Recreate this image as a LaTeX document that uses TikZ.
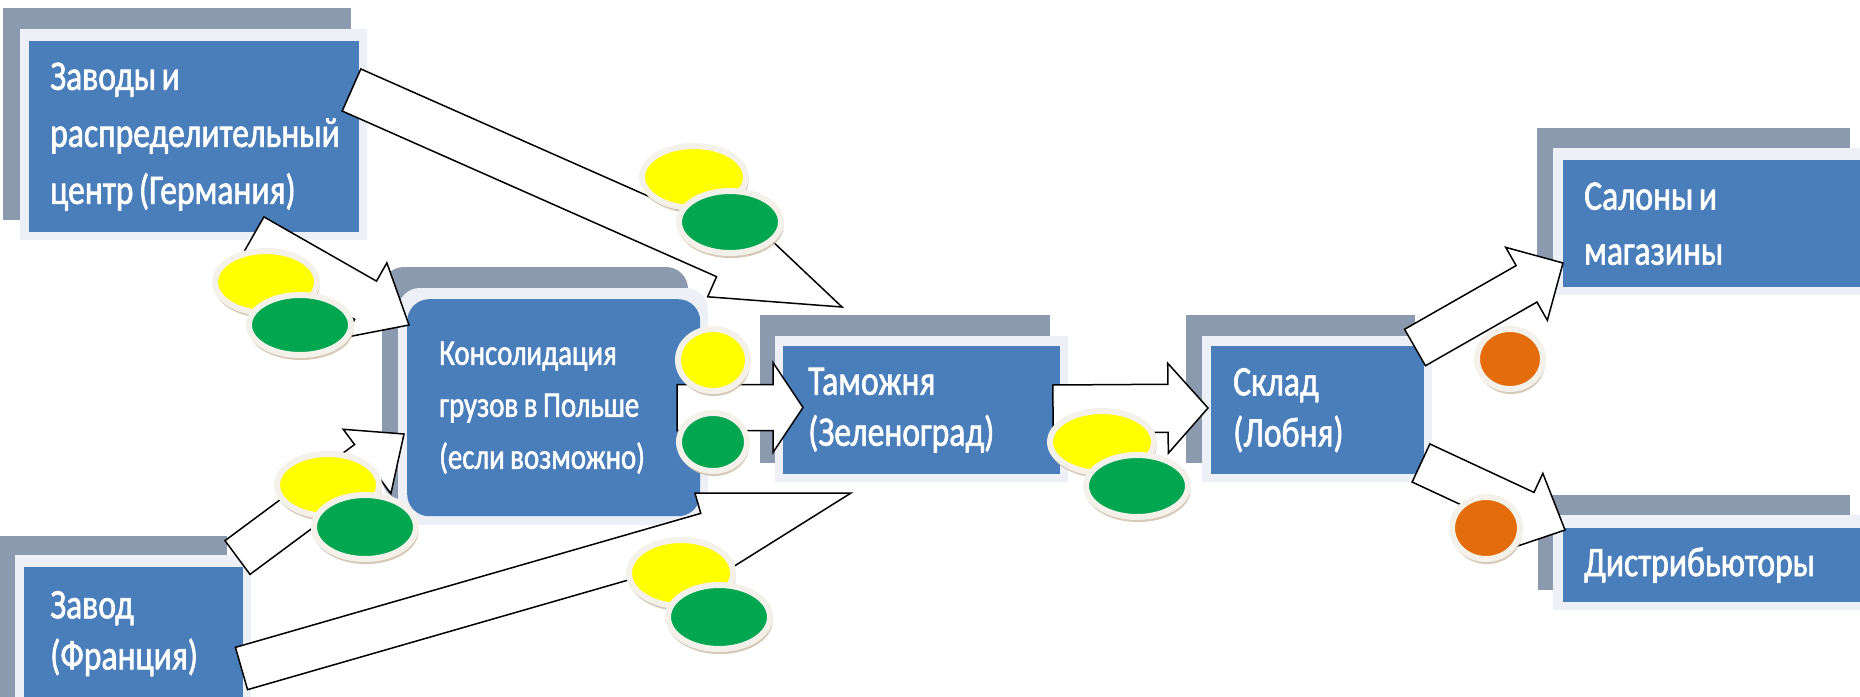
\documentclass[tikz,border=0pt]{standalone}
\usepackage{fontspec}
\newfontfamily\boxfont[FakeStretch=0.8,FakeBold=1.5]{Carlito}
\usetikzlibrary{calc,shapes.geometric,shadows}
\definecolor{boxblue}{HTML}{4A7EBB}
\definecolor{backgray}{HTML}{8C9AB0}
\definecolor{framelight}{HTML}{EDF1F7}
\definecolor{cyellow}{HTML}{FFFF00}
\definecolor{cgreen}{HTML}{00A650}
\definecolor{corange}{HTML}{E46C0A}
\definecolor{rimc}{HTML}{F4F1EA}
\definecolor{coinsh}{HTML}{CDBBA6}
\newcommand\flowarrow[5]{%
  \path ($(#2)!#5!(#1)$) coordinate (fa-h);
  \draw[blockarr] ($(#1)!#3!90:(#2)$) -- ($(fa-h)!#3!90:(#2)$) -- ($(fa-h)!#4!90:(#2)$) -- (#2)
    -- ($(fa-h)!#4!-90:(#2)$) -- ($(fa-h)!#3!-90:(#2)$) -- ($(#1)!#3!-90:(#2)$) -- cycle;}
\begin{document}
\begin{tikzpicture}[x=1pt,y=-1pt,
  box/.style={rectangle, fill=boxblue, text=white, anchor=north west, align=left,
    font=\boxfont\fontsize{42}{55}\selectfont, inner ysep=0pt,
    execute at begin node={\spaceskip=5.5pt\relax}},
  blockarr/.style={fill=white, draw=black, line width=1.5pt, line join=miter},
  coin/.style={ellipse, inner sep=0pt, draw=rimc, line width=6pt,
    drop shadow={shadow xshift=1pt, shadow yshift=-4pt, shadow scale=1.03, fill=coinsh, opacity=0.8}},
  back/.style={fill=backgray},
  frame/.style={fill=framelight}]
\useasboundingbox (0,0) rectangle (1860,696);
\clip (0,0) rectangle (1860,696);
% back plates
\fill[back] (3,8) rectangle (351,220);
\fill[frame] (20,29) rectangle (367,240);
\fill[back] (0,536) rectangle (227,700);
\fill[frame] (15,555) rectangle (251,700);
\fill[back, rounded corners=22pt] (382,267) rectangle (688,500);
\fill[frame, rounded corners=22pt] (398,288) rectangle (708,525);
\fill[back] (760,315) rectangle (1050,463);
\fill[frame] (775,336) rectangle (1068,482);
\fill[back] (1186,315) rectangle (1415,463);
\fill[frame] (1202,336) rectangle (1432,482);
\fill[back] (1537,128) rectangle (1850,275);
\fill[frame] (1553,148) rectangle (1870,295);
\fill[back] (1538,495) rectangle (1850,590);
\fill[frame] (1553,515) rectangle (1870,610);
% boxes
\node[box, minimum width=330pt, minimum height=191pt, inner xsep=21pt, text width=288pt,
  font=\boxfont\fontsize{42}{57}\selectfont] (de) at (29,41)
  {Заводы и\\распределительный\\центр (Германия)};
\node[box, minimum width=219pt, minimum height=133pt, inner xsep=26pt, text width=167pt,
  font=\boxfont\fontsize{42}{51}\selectfont] (fr) at (24,567) {Завод\\(Франция)};
\node[box, rounded corners=22pt, minimum width=293pt, minimum height=217pt, inner xsep=32pt, text width=229pt,
  font=\boxfont\fontsize{36}{52}\selectfont] (pl) at (407,299)
  {Консолидация\\грузов в Польше\\(если возможно)};
\node[box, minimum width=277pt, minimum height=128pt, inner xsep=25pt, text width=227pt,
  font=\boxfont\fontsize{42}{51}\selectfont] (cu) at (783,346) {Таможня\\(Зеленоград)};
\node[box, minimum width=213pt, minimum height=128pt, inner xsep=22pt, text width=169pt,
  font=\boxfont\fontsize{42}{51}\selectfont] (wh) at (1211,346) {Склад\\(Лобня)};
\node[box, minimum width=307pt, minimum height=127pt, inner xsep=21pt, text width=265pt] (sa) at (1563,160)
  {Салоны и\\магазины};
\node[box, minimum width=307pt, minimum height=74pt, inner xsep=21pt, text width=265pt] (di) at (1563,528)
  {Дистрибьюторы};
% arrow ends
\coordinate (a1t) at (351.5,90);   \coordinate (a1p) at (842,307);
\coordinate (a2t) at (253,236);    \coordinate (a2p) at (409,325);
\coordinate (a3t) at (237.5,557.5); \coordinate (a3p) at (404,434);
\coordinate (a4t) at (241.5,668.5); \coordinate (a4p) at (851,493);
\coordinate (a5t) at (677,407.5);  \coordinate (a5p) at (803,407.5);
\coordinate (a6t) at (1053,409);   \coordinate (a6p) at (1208,408);
\coordinate (a7t) at (1415,347.5); \coordinate (a7p) at (1563,263);
\coordinate (a8t) at (1421,463);   \coordinate (a8p) at (1565,530);
\flowarrow{a1t}{a1p}{23pt}{45pt}{127pt}
\flowarrow{a2t}{a2p}{22pt}{43pt}{50pt}
\flowarrow{a3t}{a3p}{21pt}{40pt}{46pt}
\flowarrow{a4t}{a4p}{22pt}{43pt}{150pt}
\flowarrow{a5t}{a5p}{23pt}{45pt}{30pt}
\flowarrow{a6t}{a6p}{24pt}{45pt}{40pt}
\flowarrow{a7t}{a7p}{21pt}{42pt}{42pt}
\flowarrow{a8t}{a8p}{21pt}{42pt}{44pt}
% coins
\node[coin, fill=cyellow, minimum width=104pt, minimum height=62pt] (y1) at (694,177) {};
\node[coin, fill=cgreen, minimum width=102pt, minimum height=62pt] (g1) at (730,222) {};
\node[coin, fill=cyellow, minimum width=102pt, minimum height=62pt] (y2) at (266,282) {};
\node[coin, fill=cgreen, minimum width=102pt, minimum height=60pt] (g2) at (300,325) {};
\node[coin, fill=cyellow, minimum width=70pt, minimum height=62pt] (y3) at (713,360) {};
\node[coin, fill=cgreen, minimum width=68pt, minimum height=58pt] (g3) at (713,442) {};
\node[coin, fill=cyellow, minimum width=102pt, minimum height=62pt] (y4) at (328,485) {};
\node[coin, fill=cgreen, minimum width=102pt, minimum height=64pt] (g4) at (365,527) {};
\node[coin, fill=cyellow, minimum width=104pt, minimum height=66pt] (y5) at (681,573) {};
\node[coin, fill=cgreen, minimum width=102pt, minimum height=64pt] (g5) at (719,617) {};
\node[coin, fill=cyellow, minimum width=104pt, minimum height=62pt] (y6) at (1102,442) {};
\node[coin, fill=cgreen, minimum width=102pt, minimum height=62pt] (g6) at (1137,486) {};
\node[coin, fill=corange, minimum width=66pt, minimum height=60pt] (o1) at (1510,359) {};
\node[coin, fill=corange, minimum width=68pt, minimum height=62pt] (o2) at (1486,528) {};
\end{tikzpicture}
\end{document}
